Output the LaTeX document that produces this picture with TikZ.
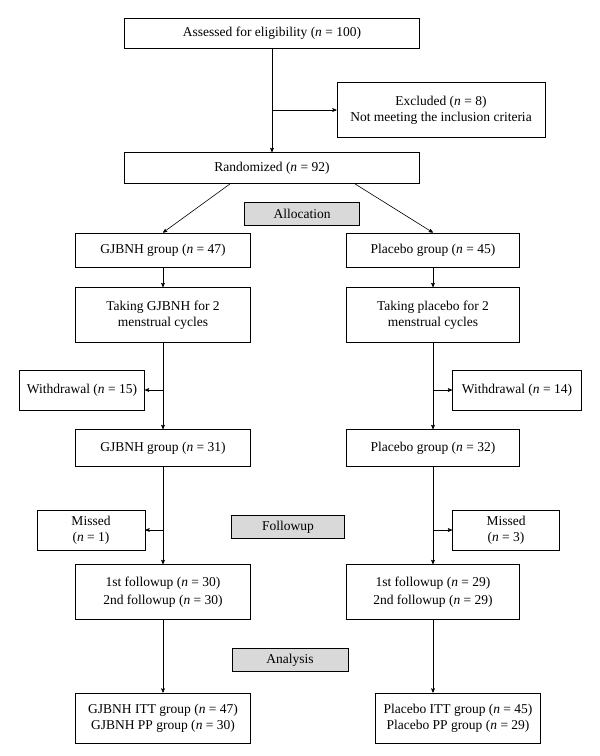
\documentclass[tikz,border=0pt]{standalone}
\usepackage{fontspec}
\setmainfont{Liberation Serif}
\usetikzlibrary{arrows,positioning}
\newcommand{\nn}{\textit{n}}
\tikzset{
  box/.style={draw, thick, fill=white, align=center, inner sep=2pt, font=\fontsize{13.5}{16}\selectfont},
  stage/.style={draw, fill=black!15, align=center, minimum width=115pt, minimum height=23pt, font=\fontsize{13.5}{16}\selectfont},
  line/.style={->, >=stealth', semithick}
}
\begin{document}
\begin{tikzpicture}[x=1pt,y=-1pt]
  \useasboundingbox (0,0) rectangle (600,756);
  \node[box, minimum width=295pt, minimum height=30pt] (assess) at (272,33) {Assessed for eligibility (\nn{} = 100)};
  \node[box, minimum width=208pt, minimum height=55pt] (excl) at (441,110) {Excluded (\nn{} = 8)\\Not meeting the inclusion criteria};
  \node[box, minimum width=295pt, minimum height=31pt] (rand) at (272,168) {Randomized (\nn{} = 92)};
  \node[stage] (alloc) at (302,214) {Allocation};
  \node[box, minimum width=175pt, minimum height=34pt] (ga) at (163,250) {GJBNH group (\nn{} = 47)};
  \node[box, minimum width=173pt, minimum height=34pt] (pa) at (433,250) {Placebo group (\nn{} = 45)};
  \node[box, minimum width=175pt, minimum height=55pt] (gt) at (163,315) {Taking GJBNH for 2\\menstrual cycles};
  \node[box, minimum width=173pt, minimum height=55pt] (pt) at (433,315) {Taking placebo for 2\\menstrual cycles};
  \node[box, minimum width=125pt, minimum height=40pt] (gw) at (82,390) {Withdrawal (\nn{} = 15)};
  \node[box, minimum width=129pt, minimum height=40pt] (pw) at (517,390) {Withdrawal (\nn{} = 14)};
  \node[box, minimum width=175pt, minimum height=37pt] (gb) at (163,448) {GJBNH group (\nn{} = 31)};
  \node[box, minimum width=173pt, minimum height=37pt] (pb) at (433,448) {Placebo group (\nn{} = 32)};
  \node[box, minimum width=108pt, minimum height=40pt] (gm) at (91,530) {Missed\\(\nn{} = 1)};
  \node[stage, minimum width=113pt] (follow) at (288,527) {Followup};
  \node[box, minimum width=107pt, minimum height=40pt] (pm) at (506,530) {Missed\\(\nn{} = 3)};
  \node[box, minimum width=175pt, minimum height=55pt] (gf) at (163,592) {1st followup (\nn{} = 30)\\[2pt]2nd followup (\nn{} = 30)};
  \node[box, minimum width=173pt, minimum height=55pt] (pf) at (433,592) {1st followup (\nn{} = 29)\\[2pt]2nd followup (\nn{} = 29)};
  \node[stage, minimum width=116pt] (anal) at (290,660) {Analysis};
  \node[box, minimum width=175pt, minimum height=50pt] (gr) at (163,718) {GJBNH ITT group (\nn{} = 47)\\GJBNH PP group (\nn{} = 30)};
  \node[box, minimum width=165pt, minimum height=50pt] (pr) at (458,718) {Placebo ITT group (\nn{} = 45)\\Placebo PP group (\nn{} = 29)};
  % branch points
  \coordinate (ex) at (assess.south |- excl.west);
  \coordinate (wl) at (ga.south |- gw.east);
  \coordinate (wr) at (pa.south |- pw.west);
  \coordinate (ml) at (ga.south |- gm.east);
  \coordinate (mr) at (pa.south |- pm.west);
  \draw[line] (assess) -- (rand);
  \draw[line] (ex) -- (excl);
  \draw[line] (rand.south -| 230,0) -- (ga.north);
  \draw[line] (rand.south -| 355,0) -- (pa.north);
  \draw[line] (ga) -- (gt);
  \draw[line] (pa) -- (pt);
  \draw[line] (gt) -- (gb);
  \draw[line] (pt) -- (pb);
  \draw[line] (wl) -- (gw);
  \draw[line] (wr) -- (pw);
  \draw[line] (gb) -- (gf);
  \draw[line] (pb) -- (pf);
  \draw[line] (ml) -- (gm);
  \draw[line] (mr) -- (pm);
  \draw[line] (gf) -- (gr);
  \draw[line] (pf.south) -- (pf.south |- pr.north);
\end{tikzpicture}
\end{document}
